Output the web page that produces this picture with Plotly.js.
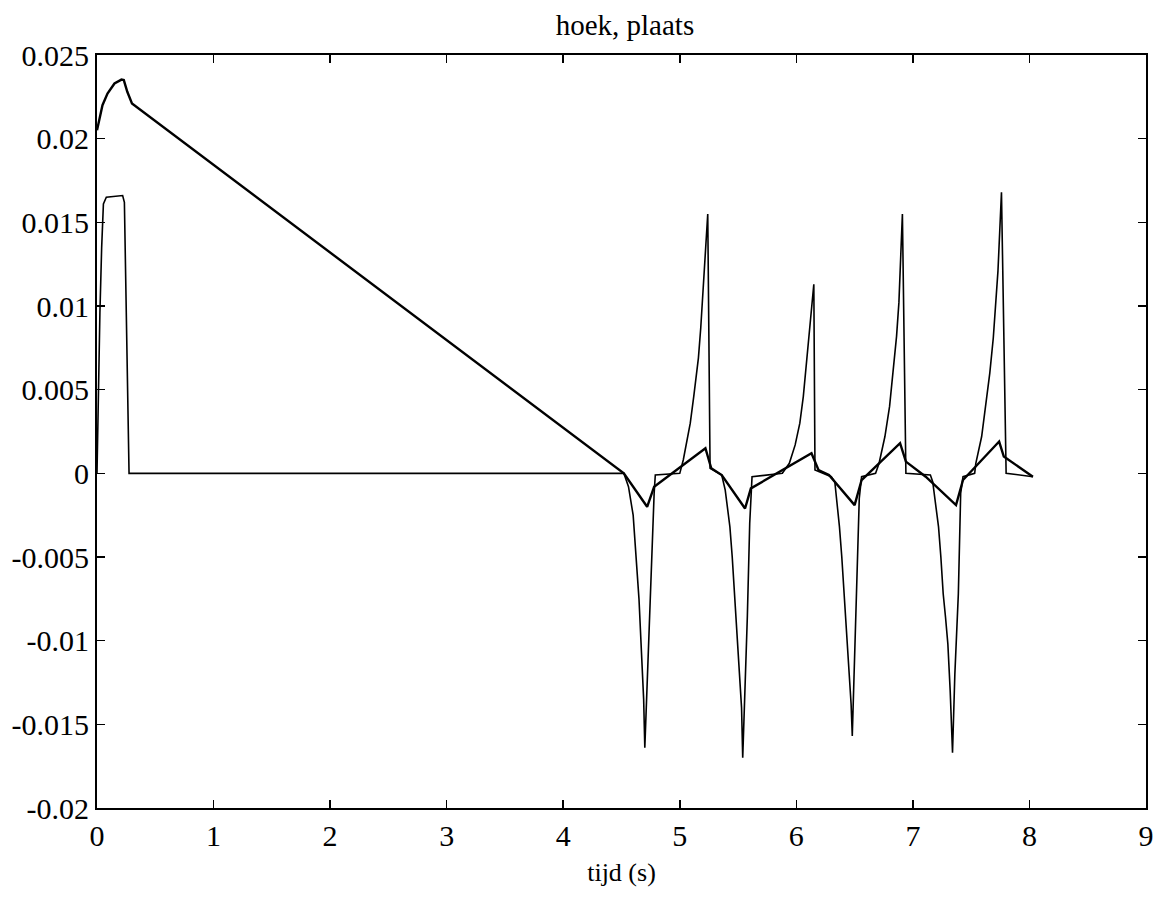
<!DOCTYPE html>
<html>
<head>
<meta charset="utf-8">
<script src="https://cdn.plot.ly/plotly-3.0.1.min.js"></script>
<style>html,body{margin:0;padding:0;background:#fff;}#chart{width:1153px;height:914px;}</style>
</head>
<body>
<div id="chart"></div>
<script>
// Series A (upper, thicker curve)
const tA = [0, 0.047, 0.09, 0.15, 0.21, 0.23, 0.26, 0.30,
  4.52, 4.72, 4.78, 5.22, 5.27, 5.36, 5.56, 5.61, 6.13, 6.19, 6.28, 6.50, 6.56,
  6.89, 6.94, 7.11, 7.37, 7.43, 7.74, 7.78, 8.03];
const yA = [0.0205, 0.0220, 0.0227, 0.0233, 0.02353, 0.0235, 0.0228, 0.0221,
  0.0, -0.0020, -0.0008, 0.0015, 0.0003, -0.0001, -0.0021, -0.0009, 0.0012, 0.0002, -0.0001, -0.0019, -0.0004,
  0.0018, 0.0007, -0.0002, -0.0019, -0.0004, 0.0019, 0.0010, -0.0002];

// Series B (spiky curve)
const tB = [0, 0.01, 0.025, 0.04, 0.055, 0.08, 0.22, 0.235, 0.25, 0.275,
  4.52, 4.56, 4.60, 4.63, 4.65, 4.67, 4.69, 4.70, 4.72, 4.74, 4.76, 4.78, 4.79,
  5.00, 5.03, 5.06, 5.09, 5.12, 5.16, 5.18, 5.20, 5.22, 5.24, 5.26, 5.36,
  5.39, 5.43, 5.45, 5.47, 5.49, 5.51, 5.53, 5.54, 5.56, 5.58, 5.60, 5.62,
  5.88, 5.94, 5.99, 6.03, 6.06, 6.09, 6.12, 6.15, 6.16, 6.30,
  6.33, 6.37, 6.39, 6.41, 6.43, 6.45, 6.47, 6.48, 6.50, 6.52, 6.54, 6.56,
  6.68, 6.71, 6.76, 6.80, 6.83, 6.86, 6.88, 6.91, 6.94, 7.15,
  7.17, 7.22, 7.24, 7.26, 7.28, 7.30, 7.32, 7.34, 7.36, 7.39, 7.41, 7.43,
  7.53, 7.54, 7.59, 7.63, 7.66, 7.69, 7.73, 7.76, 7.80, 8.03];
const yB = [0, 0.0045, 0.0096, 0.0135, 0.0161, 0.0165, 0.0166, 0.0162, 0.0105, 0,
  0, -0.0008, -0.0025, -0.0052, -0.0075, -0.0105, -0.0135, -0.0164, -0.0125, -0.0092, -0.0052, -0.0012, -0.0001,
  0, 0.0008, 0.0018, 0.0030, 0.0046, 0.0069, 0.0087, 0.0109, 0.0130, 0.0155, 0.0003, -0.0001,
  -0.0010, -0.0032, -0.0050, -0.0072, -0.0092, -0.0112, -0.0140, -0.0170, -0.0131, -0.0085, -0.0030, -0.0002,
  0, 0.0006, 0.0017, 0.0030, 0.0046, 0.0069, 0.0090, 0.0113, 0.0002, -0.0002,
  -0.0005, -0.0032, -0.0050, -0.0072, -0.0092, -0.0112, -0.0138, -0.0157, -0.0110, -0.0065, -0.0015, -0.0002,
  0, 0.0006, 0.0022, 0.0040, 0.0062, 0.0082, 0.0102, 0.0155, 0.0, -0.0001,
  -0.0005, -0.0032, -0.0050, -0.0072, -0.0086, -0.0102, -0.0130, -0.0167, -0.0120, -0.0072, -0.0012, -0.0002,
  0, 0.0006, 0.0022, 0.0042, 0.0060, 0.0081, 0.0121, 0.0168, 0.0, -0.0002];

const xTickVals = [0, 1, 2, 3, 4, 5, 6, 7, 8, 9];
const xTickText = ["0", "1", "2", "3", "4", "5", "6", "7", "8", "9"];
const yTickVals = [0.025, 0.02, 0.015, 0.01, 0.005, 0, -0.005, -0.01, -0.015, -0.02];
const yTickText = ["0.025", "0.02", "0.015", "0.01", "0.005", "0", "-0.005", "-0.01", "-0.015", "-0.02"];

const chartTitle = "hoek, plaats";
const xTitle = "tijd (s)";

const serif = "Liberation Serif";
const font = {family: serif, size: 30, color: "#000"};

const traces = [
  {x: tA, y: yA, type: "scatter", mode: "lines", line: {color: "#000", width: 2.4}, showlegend: false, hoverinfo: "skip"},
  {x: tB, y: yB, type: "scatter", mode: "lines", line: {color: "#000", width: 1.6}, showlegend: false, hoverinfo: "skip"}
];

const axisCommon = {
  showgrid: false, zeroline: false, showline: true, linecolor: "#000", linewidth: 2,
  mirror: "ticks", ticks: "inside", ticklen: 8, tickwidth: 1.5, tickcolor: "#000",
  tickfont: font, tickmode: "array", ticklabeloverflow: "allow", automargin: false
};

const layout = {
  width: 1153, height: 914,
  paper_bgcolor: "#fff", plot_bgcolor: "#fff",
  margin: {l: 97, r: 7, t: 55, b: 106},
  font: font,
  title: {text: chartTitle, font: {family: serif, size: 29, color: "#000"}, x: 0.542, xref: "container", xanchor: "center", y: 0.973, yref: "container", yanchor: "middle"},
  xaxis: Object.assign({}, axisCommon, {range: [0, 9], tickvals: xTickVals, ticktext: xTickText,
    title: {text: xTitle, font: {family: serif, size: 26, color: "#000"}, standoff: 12}}),
  yaxis: Object.assign({}, axisCommon, {range: [-0.02, 0.025], tickvals: yTickVals, ticktext: yTickText})
};

Plotly.newPlot("chart", traces, layout, {staticPlot: true, displayModeBar: false});
</script>
</body>
</html>
